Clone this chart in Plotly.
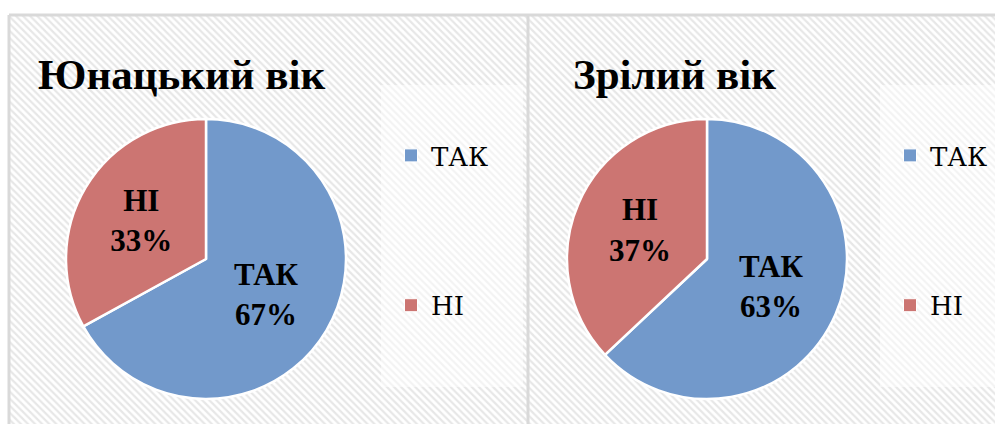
import plotly.graph_objects as go

# ---- data ----
categories = ["ТАК", "НІ"]
youth_values = [67, 33]
mature_values = [63, 37]
titles = ["Юнацький вік", "Зрілий вік"]

# ---- styling / layout constants ----
W, H = 995, 424
BLUE = "#7299CB"
RED = "#CC7572"
SERIF = "Liberation Serif"
SERIF_REG = "DejaVu Serif"

panels = [  # x0, x1, y0 (top), y1 (bottom) in pixels
    (9, 528, 15, 424),
    (529, 995, 15, 424),
]
legend_boxes = [
    (381, 523, 85, 387),
    (880, 995, 85, 387),
]

fig = go.Figure()

# hatched panel backgrounds
fig.add_trace(go.Bar(
    x=[(p[0] + p[1]) / 2 for p in panels],
    width=[p[1] - p[0] for p in panels],
    base=[p[2] for p in panels],
    y=[p[3] - p[2] for p in panels],
    marker=dict(color="white", line=dict(width=0),
                pattern=dict(shape="\\", fgcolor="#cfcfcf", bgcolor="white",
                             size=5, solidity=0.45)),
    hoverinfo="skip", showlegend=False,
))
# lighter legend areas
fig.add_trace(go.Bar(
    x=[(b[0] + b[1]) / 2 for b in legend_boxes],
    width=[b[1] - b[0] for b in legend_boxes],
    base=[b[2] for b in legend_boxes],
    y=[b[3] - b[2] for b in legend_boxes],
    marker=dict(color="rgba(255,255,255,0.5)", line=dict(width=0)),
    hoverinfo="skip", showlegend=False,
))

pie_domains = [
    dict(x=[66 / W, 346 / W], y=[(H - 399) / H, (H - 119) / H]),
    dict(x=[567 / W, 847 / W], y=[(H - 399) / H, (H - 119) / H]),
]
for vals, dom in zip([youth_values, mature_values], pie_domains):
    fig.add_trace(go.Pie(
        labels=categories, values=vals, domain=dom,
        sort=False, direction="clockwise", rotation=0,
        marker=dict(colors=[BLUE, RED], line=dict(color="white", width=2.5)),
        texttemplate="%{label}<br>%{percent:.0%}",
        textposition="inside", insidetextorientation="horizontal",
        textfont=dict(family=SERIF, size=31, color="black", weight="bold"),
        showlegend=False, hoverinfo="label+percent",
    ))

# legend entries (one legend per panel)
for li, lname in enumerate(["legend", "legend2"]):
    for cat, col in zip(categories, [BLUE, RED]):
        fig.add_trace(go.Scatter(
            x=[None], y=[None], mode="markers", name=cat,
            marker=dict(symbol="square", size=13, color=col,
                        line=dict(color="white", width=1)),
            legend=lname, legendgroup=f"{lname}-{cat}",
        ))


def legend_style(xpx):
    return dict(
        x=xpx / W, y=(H - 132) / H,
        font=dict(family=SERIF_REG, size=26, color="black"),
        bgcolor="rgba(0,0,0,0)", traceorder="grouped", tracegroupgap=113,
        yanchor="top", xanchor="left", itemclick=False, itemdoubleclick=False,
    )


for i, t in enumerate(titles):
    fig.add_annotation(
        text=t, xref="paper", yref="paper",
        x=[181, 674][i] / W, y=(H - 74) / H,
        showarrow=False, xanchor="center", yanchor="middle",
        font=dict(family=SERIF, size=43, color="black", weight="bold"),
    )

# panel borders
border = dict(color="#d9d9d9", width=3)
fig.add_shape(type="line", xref="paper", yref="paper",
              x0=9 / W, x1=1, y0=(H - 15) / H, y1=(H - 15) / H, line=border)
fig.add_shape(type="line", xref="paper", yref="paper",
              x0=9 / W, x1=9 / W, y0=0, y1=(H - 15) / H, line=border)
fig.add_shape(type="line", xref="paper", yref="paper",
              x0=528 / W, x1=528 / W, y0=0, y1=(H - 15) / H, line=border)

fig.update_layout(
    width=W, height=H, margin=dict(l=0, r=0, t=0, b=0),
    font=dict(family=SERIF, color="black"),
    paper_bgcolor="white", plot_bgcolor="rgba(0,0,0,0)",
    barmode="overlay", bargap=0,
    xaxis=dict(range=[0, W], visible=False, fixedrange=True),
    yaxis=dict(range=[H, 0], visible=False, fixedrange=True),
    legend=legend_style(391),
    legend2=legend_style(890),
    showlegend=True,
)

fig.write_html("out.html", config={"displayModeBar": False},
               post_script="document.body.style.margin='0';document.body.style.overflow='hidden';")
